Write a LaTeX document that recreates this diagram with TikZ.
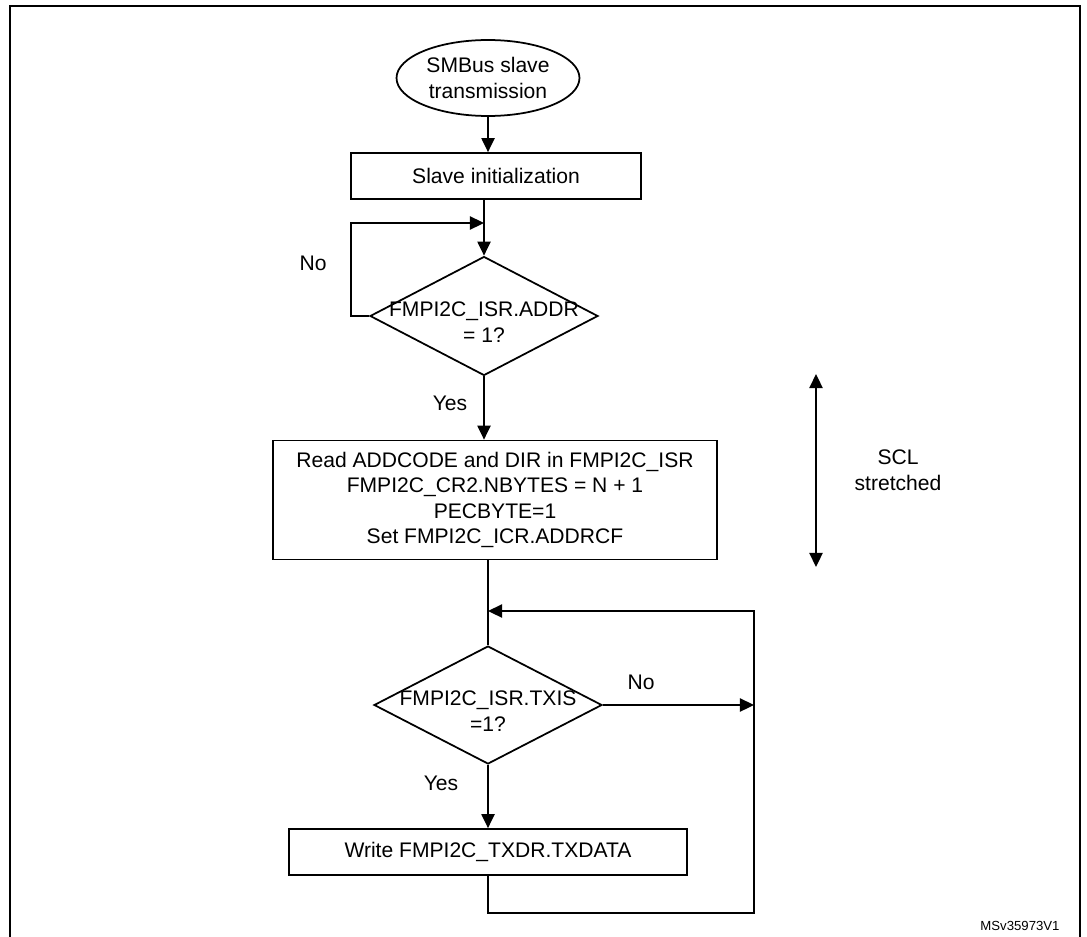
\documentclass[tikz,border=0pt]{standalone}
\usepackage{fontspec}
\setmainfont{Liberation Sans}
\usetikzlibrary{shapes.geometric,arrows.meta}
\begin{document}
\begin{tikzpicture}[x=0.02cm,y=-0.02cm,
  every node/.style={font=\fontsize{12}{14.5}\selectfont,align=center},
  box/.style={draw,line width=1pt,inner sep=0pt},
  dia/.style={draw,line width=1pt,diamond,inner sep=0pt},
  line/.style={line width=1pt},
  tip/.style={Triangle[length=8pt,width=7.5pt]},
  arr/.style={line width=1pt,-{Triangle[length=8pt,width=7.5pt]}}]
\useasboundingbox (0,0) rectangle (1087,936);
\draw[line width=1pt] (10,940) -- (10,6) -- (1080,6) -- (1080,940);
\node[ellipse,draw,line width=1pt,minimum width=3.66cm,minimum height=1.52cm,inner sep=0pt] (st) at (488,78) {SMBus slave\\transmission};
\node[box,minimum width=5.8cm,minimum height=0.92cm] (init) at (496,176) {Slave initialization};
\node[dia,minimum width=4.56cm,minimum height=2.38cm] (d1) at (484,316) {};
\node at (484,322) {FMPI2C\_ISR.ADDR\\= 1?};
\coordinate (j1) at (484,223);
\coordinate (l1) at (351,316);
\coordinate (l2) at (351,223);
\node at (313,263) {No};
\node at (450,403) {Yes};
\node[box,minimum width=8.88cm,minimum height=2.38cm] (read) at (495,500) {Read ADDCODE and DIR in FMPI2C\_ISR\\FMPI2C\_CR2.NBYTES = N + 1\\PECBYTE=1\\Set FMPI2C\_ICR.ADDRCF};
\coordinate (s1) at (816,374);
\coordinate (s2) at (816,567);
\node (scl) at (898,470) {SCL\\stretched};
\node[dia,minimum width=4.56cm,minimum height=2.36cm] (d2) at (488,705) {};
\node at (488,711) {FMPI2C\_ISR.TXIS\\=1?};
\coordinate (j2) at (488,611);
\coordinate (r1) at (754,705);
\coordinate (r2) at (754,611);
\coordinate (r3) at (754,913);
\coordinate (b1) at (488,913);
\node at (641,682) {No};
\node at (441,783) {Yes};
\node[box,minimum width=7.96cm,minimum height=0.92cm] (wr) at (488,852) {Write FMPI2C\_TXDR.TXDATA};
\node[font=\fontsize{7.5}{9}\selectfont] (id) at (1020,926) {MSv35973V1};
\draw[arr] (st.south) -- (init.north -| st.south);
\draw[arr] (init.south -| j1) -- (d1.north);
\draw[arr] (d1.west) -- (l1) -- (l2) -- (j1);
\draw[arr] (d1.south) -- (read.north -| d1.south);
\draw[line,{Triangle[length=8pt,width=7.5pt]}-{Triangle[length=8pt,width=7.5pt]}] (s1) -- (s2);
\draw[line] (read.south -| j2) -- (d2.north);
\draw[arr] (d2.east) -- (r1);
\draw[arr] (d2.south) -- (wr.north -| d2.south);
\draw[arr] (wr.south -| b1) -- (b1) -- (r3) -- (r2) -- (j2);
\end{tikzpicture}
\end{document}
